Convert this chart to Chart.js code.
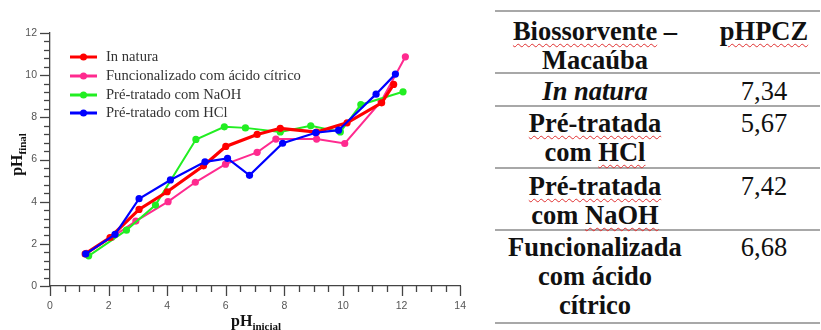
<!DOCTYPE html>
<html><head><meta charset="utf-8">
<script src="https://cdn.jsdelivr.net/npm/chart.js@4/dist/chart.umd.min.js"></script>
<style>
body{margin:0;width:821px;height:330px;background:#fff;overflow:hidden;position:relative;font-family:"Liberation Serif","Times New Roman",serif;color:#111}
#cw{position:absolute;left:0;top:0;width:480px;height:330px}
.hl{position:absolute;left:495px;width:325px;height:2px;background:#a8a8a8}
.cell{position:absolute;text-align:center;font-family:"Liberation Serif",serif;font-size:26.5px;line-height:29px;white-space:nowrap}
.c1{left:495px;width:200px}
.c2{left:700px;width:128px}
.b{font-weight:bold}
.sp{text-decoration:underline wavy #e03030;text-decoration-thickness:1px;text-underline-offset:3px}
</style></head>
<body>
<div id="cw"><canvas id="c"></canvas></div>

<div class="hl" style="top:10px"></div>
<div class="hl" style="top:72px"></div>
<div class="hl" style="top:105px"></div>
<div class="hl" style="top:167px"></div>
<div class="hl" style="top:229px"></div>
<div class="hl" style="top:322px"></div>

<div class="cell c1 b" style="top:17px"><span class="sp">Biossorvente</span> –<br>Macaúba</div>
<div class="cell c2 b" style="top:17px"><span class="sp">pHPCZ</span></div>
<div class="cell c1 b" style="top:77px"><i>In natura</i></div>
<div class="cell c2" style="top:77px">7,34</div>
<div class="cell c1 b" style="top:109px"><span class="sp">Pré-tratada</span><br>com <span class="sp">HCl</span></div>
<div class="cell c2" style="top:109px">5,67</div>
<div class="cell c1 b" style="top:172px"><span class="sp">Pré-tratada</span><br>com <span class="sp">NaOH</span></div>
<div class="cell c2" style="top:172px">7,42</div>
<div class="cell c1 b" style="top:233px">Funcionalizada<br>com ácido<br>cítrico</div>
<div class="cell c2" style="top:233px">6,68</div>

<script>
// Series labels
const seriesNames = ["In natura", "Funcionalizado com ácido cítrico", "Pré-tratado com NaOH", "Pré-tratado com HCl"];
// In natura
const naturaX = [1.2, 2.05, 3.04, 4.0, 5.24, 6.0, 7.07, 7.86, 9.1, 10.14, 11.32, 11.73];
const naturaY = [1.52, 2.3, 3.63, 4.47, 5.7, 6.62, 7.19, 7.48, 7.3, 7.74, 8.69, 9.56];
// Funcionalizado com ácido cítrico
const citricoX = [1.25, 2.1, 2.93, 4.03, 4.96, 5.99, 7.07, 7.71, 9.1, 10.06, 11.3, 12.13];
const citricoY = [1.55, 2.3, 3.08, 4.0, 4.92, 5.78, 6.34, 6.97, 6.97, 6.76, 8.75, 10.87];
// Pré-tratado com NaOH
const naohX = [1.32, 2.61, 3.6, 4.98, 5.95, 6.67, 7.86, 8.9, 9.91, 10.61, 12.05];
const naohY = [1.43, 2.65, 3.84, 6.95, 7.55, 7.5, 7.31, 7.6, 7.31, 8.6, 9.21];
// Pré-tratado com HCl
const hclX = [1.22, 2.22, 3.04, 4.11, 5.29, 6.06, 6.81, 7.94, 9.07, 9.85, 11.13, 11.79];
const hclY = [1.52, 2.45, 4.14, 5.03, 5.89, 6.05, 5.25, 6.77, 7.27, 7.39, 9.1, 10.05];
// Ticks
const xTicks = [0, 2, 4, 6, 8, 10, 12, 14];
const yTicks = [0, 2, 4, 6, 8, 10, 12];

const colors = ["#ff0000", "#ff2a8f", "#22ee22", "#0000ff"];
const widths = [3.2, 2, 2, 2.2];
const orders = [2, 4, 3, 1];
const xs = [naturaX, citricoX, naohX, hclX];
const ys = [naturaY, citricoY, naohY, hclY];

const datasets = seriesNames.map((n, i) => ({
  label: n,
  data: xs[i].map((x, j) => ({x: x, y: ys[i][j]})),
  showLine: true,
  borderColor: colors[i],
  backgroundColor: colors[i],
  borderWidth: widths[i],
  pointRadius: 3.6,
  pointBorderWidth: 0,
  pointBackgroundColor: colors[i],
  tension: 0,
  order: orders[i]
}));

const tickPlugin = {
  id: 'tickmarks',
  afterDraw(chart) {
    const ctx = chart.ctx, xs_ = chart.scales.x, ys_ = chart.scales.y;
    ctx.save();
    ctx.strokeStyle = '#444';
    ctx.lineWidth = 1.3;
    const b = ys_.getPixelForValue(0), l = xs_.getPixelForValue(0);
    for (let k = 0; k <= 28; k++) {
      const v = k * 0.5;
      const p = Math.round(xs_.getPixelForValue(v)) + 0.5;
      const len = (k % 4 === 0) ? 10 : 6;
      ctx.beginPath(); ctx.moveTo(p, b); ctx.lineTo(p, b + len); ctx.stroke();
    }
    for (let k = 0; k <= 30; k++) {
      const v = k * 0.4;
      const p = Math.round(ys_.getPixelForValue(v)) + 0.5;
      const len = (k % 5 === 0) ? 10 : 6;
      ctx.beginPath(); ctx.moveTo(l, p); ctx.lineTo(l - len, p); ctx.stroke();
    }
    // axis titles
    ctx.fillStyle = '#111';
    const drawSub = (main, sub, cx, cy) => {
      ctx.font = 'bold 16px "Liberation Serif"';
      const w1 = ctx.measureText(main).width;
      ctx.font = 'bold 11px "Liberation Serif"';
      const w2 = ctx.measureText(sub).width;
      const x0 = cx - (w1 + w2) / 2;
      ctx.textAlign = 'left'; ctx.textBaseline = 'alphabetic';
      ctx.font = 'bold 16px "Liberation Serif"';
      ctx.fillText(main, x0, cy);
      ctx.font = 'bold 11px "Liberation Serif"';
      ctx.fillText(sub, x0 + w1, cy + 4);
    };
    drawSub('pH', 'inicial', (xs_.left + xs_.right) / 2 + 1, 326);
    ctx.save();
    ctx.translate(22, (ys_.top + ys_.bottom) / 2 - 5);
    ctx.rotate(-Math.PI / 2);
    drawSub('pH', 'final', 0, 0);
    ctx.restore();
    // legend
    const rows = [57, 76, 95, 113];
    chart.data.datasets.forEach((ds, i) => {
      const y = rows[i];
      ctx.strokeStyle = ds.borderColor;
      ctx.lineWidth = 3;
      ctx.beginPath(); ctx.moveTo(70, y); ctx.lineTo(97, y); ctx.stroke();
      ctx.fillStyle = ds.borderColor;
      ctx.beginPath(); ctx.arc(83.5, y, 3.5, 0, Math.PI * 2); ctx.fill();
      ctx.fillStyle = '#333';
      ctx.font = '14.6px "Liberation Serif"';
      ctx.textAlign = 'left'; ctx.textBaseline = 'middle';
      ctx.fillText(ds.label, 106, y + 0.5);
    });
    ctx.restore();
  }
};

new Chart(document.getElementById('c'), {
  type: 'scatter',
  data: { datasets },
  options: {
    responsive: true,
    maintainAspectRatio: false,
    animation: false,
    layout: { padding: { top: 33, right: 16, left: 0, bottom: 0 } },
    plugins: { legend: { display: false }, tooltip: { enabled: false } },
    scales: {
      x: {
        type: 'linear', min: 0, max: 14,
        afterBuildTicks: s => { s.ticks = xTicks.map(v => ({value: v})); },
        afterFit: s => { s.height = 44; },
        ticks: { color: '#555', font: { family: 'Liberation Sans', size: 10.5 }, padding: 14, maxRotation: 0 },
        grid: { display: true, drawOnChartArea: false, drawTicks: false },
        border: { display: true, color: '#444', width: 1.3 }
      },
      y: {
        type: 'linear', min: 0, max: 12,
        afterBuildTicks: s => { s.ticks = yTicks.map(v => ({value: v})); },
        afterFit: s => { s.width = 50; },
        ticks: { color: '#555', font: { family: 'Liberation Sans', size: 10.5 }, padding: 13 },
        grid: { display: true, drawOnChartArea: false, drawTicks: false },
        border: { display: true, color: '#444', width: 1.3 }
      }
    }
  },
  plugins: [tickPlugin]
});
</script>
</body></html>
